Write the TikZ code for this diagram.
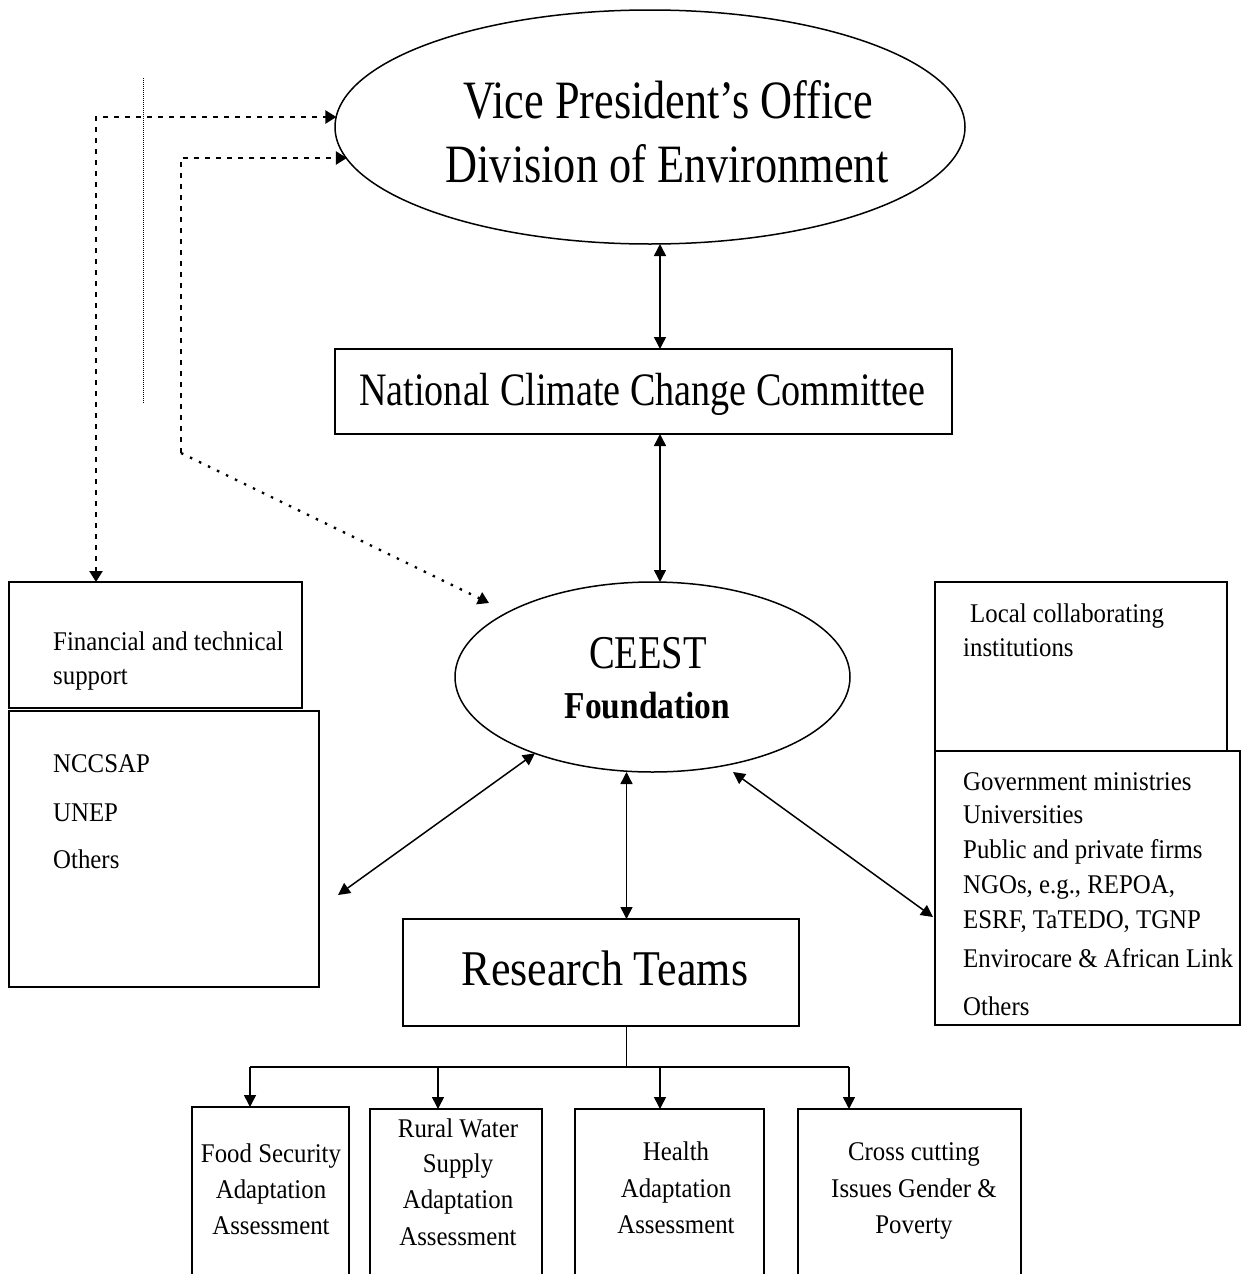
\documentclass[tikz,border=0pt]{standalone}
\usepackage{fontspec}
\setmainfont{Liberation Serif}
\newfontfamily\bigA[FakeStretch=0.82]{Liberation Serif}
\newfontfamily\bigB[FakeStretch=0.88]{Liberation Serif}
\newfontfamily\smallA[FakeStretch=0.92]{Liberation Serif}
\usetikzlibrary{arrows.meta,shapes.geometric}
\begin{document}
\begin{tikzpicture}[x=1pt,y=-1pt,
  box/.style={draw,line width=1.5pt,inner sep=0pt,outer sep=0pt,anchor=north west},
  ell/.style={draw,ellipse,line width=1.5pt,inner sep=0pt,outer sep=0pt},
  lbl/.style={inner sep=0pt,anchor=base},
  lblw/.style={inner sep=0pt,anchor=base west,font=\smallA\fontsize{27}{32}\selectfont},
  lblc/.style={inner sep=0pt,anchor=base,font=\smallA\fontsize{27}{32}\selectfont},
  biarrow/.style={line width=1.5pt,{Triangle[length=12pt,width=12pt]}-{Triangle[length=12pt,width=12pt]}},
  onearrow/.style={line width=1.5pt,-{Triangle[length=12pt,width=12pt]}},
  plain/.style={line width=1.5pt},
  dashln/.style={line width=2.3pt,dash pattern=on 5pt off 6pt},
  dotln/.style={line width=2.3pt,dash pattern=on 2.5pt off 7.5pt}
]
\useasboundingbox (0,0) rectangle (1243,1274);
\clip (0,0) rectangle (1243,1274);
\fill[white] (0,0) rectangle (1243,1274);

% ---- main shapes
\node[ell,minimum width=630pt,minimum height=234pt] (vp) at (650,127) {};
\node[box,minimum width=617pt,minimum height=85pt] (nccc) at (335,349) {};
\node[ell,minimum width=395pt,minimum height=190pt] (ceest) at (652.5,677) {};
\node[box,minimum width=396pt,minimum height=107pt] (rt) at (403,919) {};
\node[box,minimum width=293pt,minimum height=126pt] (fin) at (9,582) {};
\node[box,minimum width=310pt,minimum height=276pt] (don) at (9,711) {};
\node[box,minimum width=292pt,minimum height=169pt] (loc) at (935,582) {};
\node[box,minimum width=305pt,minimum height=274pt] (inst) at (935,751) {};
\node[box,minimum width=157pt,minimum height=200pt] (b1) at (192,1107) {};
\node[box,minimum width=172pt,minimum height=200pt] (b2) at (370,1109) {};
\node[box,minimum width=189pt,minimum height=200pt] (b3) at (575,1109) {};
\node[box,minimum width=223pt,minimum height=200pt] (b4) at (798,1109) {};

% ---- texts
\node[lbl,font=\bigA\fontsize{54}{60}\selectfont] (vpt1) at (668,118) {Vice President’s Office};
\node[lbl,font=\bigA\fontsize{54}{60}\selectfont] (vpt2) at (667,182) {Division of Environment};
\node[lbl,font=\bigA\fontsize{46.5}{50}\selectfont] (nccct) at (642.5,405) {National Climate Change Committee};
\node[lbl,font=\bigA\fontsize{47}{50}\selectfont] (ceestt1) at (648,668) {CEEST};
\node[lbl,font=\bigB\bfseries\fontsize{38}{42}\selectfont] (ceestt2) at (647.5,718) {Foundation};
\node[lbl,font=\bigB\fontsize{50}{55}\selectfont] (rtt) at (605,985) {Research Teams};

\node[lblw] (fint1) at (53,650) {Financial and technical};
\node[lblw] (fint2) at (53,684) {support};
\node[lblw] (dont1) at (53,772) {NCCSAP};
\node[lblw] (dont2) at (53,821) {UNEP};
\node[lblw] (dont3) at (53,868) {Others};

\node[lblw] (loct1) at (970,622) {Local collaborating};
\node[lblw] (loct2) at (963,656) {institutions};
\node[lblw] (inst1) at (963,790) {Government ministries};
\node[lblw] (inst2) at (963,823) {Universities};
\node[lblw] (inst3) at (963,858) {Public and private firms};
\node[lblw] (inst4) at (963,893) {NGOs, e.g., REPOA,};
\node[lblw] (inst5) at (963,928) {ESRF, TaTEDO, TGNP};
\node[lblw] (inst6) at (963,967) {Envirocare \& African Link};
\node[lblw] (inst7) at (963,1015) {Others};

\node[lblc] (b1t1) at (271,1162) {Food Security};
\node[lblc] (b1t2) at (271,1198) {Adaptation};
\node[lblc] (b1t3) at (271,1234) {Assessment};
\node[lblc] (b2t1) at (458,1137) {Rural Water};
\node[lblc] (b2t2) at (458,1172) {Supply};
\node[lblc] (b2t3) at (458,1208) {Adaptation};
\node[lblc] (b2t4) at (458,1245) {Assessment};
\node[lblc] (b3t1) at (676,1160) {Health};
\node[lblc] (b3t2) at (676,1197) {Adaptation};
\node[lblc] (b3t3) at (676,1233) {Assessment};
\node[lblc] (b4t1) at (914,1160) {Cross cutting};
\node[lblc] (b4t2) at (914,1197) {Issues Gender \&};
\node[lblc] (b4t3) at (914,1233) {Poverty};

% ---- solid connectors
\coordinate (xa) at (660,0);
\coordinate (xr) at (626.5,0);
\draw[biarrow] (vp.south -| xa) -- (nccc.north -| xa);
\draw[biarrow] (nccc.south -| xa) -- (ceest.north -| xa);
\draw[biarrow] (ceest.south -| xr) -- (rt.north -| xr);
\coordinate (lfree) at (338,895);
\draw[biarrow] (ceest.213) -- (lfree);
\coordinate (rA) at (733,772);
\coordinate (rB) at (933,917);
\draw[biarrow] (rA) -- (rB);

% ---- tree
\coordinate (bj) at (626.5,1067);
\coordinate (h1) at (250,1067);
\coordinate (h2) at (438,1067);
\coordinate (h3) at (660,1067);
\coordinate (h4) at (849,1067);
\draw[plain] (rt.south -| xr) -- (bj);
\draw[plain] (h1) -- (h4);
\draw[onearrow] (h1) -- (b1.north -| h1);
\draw[onearrow] (h2) -- (b2.north -| h2);
\draw[onearrow] (h3) -- (b3.north -| h3);
\draw[onearrow] (h4) -- (b4.north -| h4);

% ---- dashed / dotted connectors
\draw[line width=0.9pt,dash pattern=on 1pt off 1pt] (143,78) -- (143,403);
\coordinate (d1) at (96,117);
\draw[dashln,{Triangle[length=11pt,width=13pt]}-{Triangle[length=11pt,width=13pt]}] (fin.north -| d1) -- (d1) -- (d1 -| vp.178.2);
\coordinate (d2) at (181,453);
\coordinate (d2t) at (181,158);
\draw[dashln,-{Triangle[length=11pt,width=13pt]}] (d2) -- (d2t) -- (d2t -| vp.-174.2);
\coordinate (cdot) at (489,603);
\draw[dotln,-{Triangle[length=11pt,width=13pt]}] (d2) -- (cdot);
\end{tikzpicture}
\end{document}
